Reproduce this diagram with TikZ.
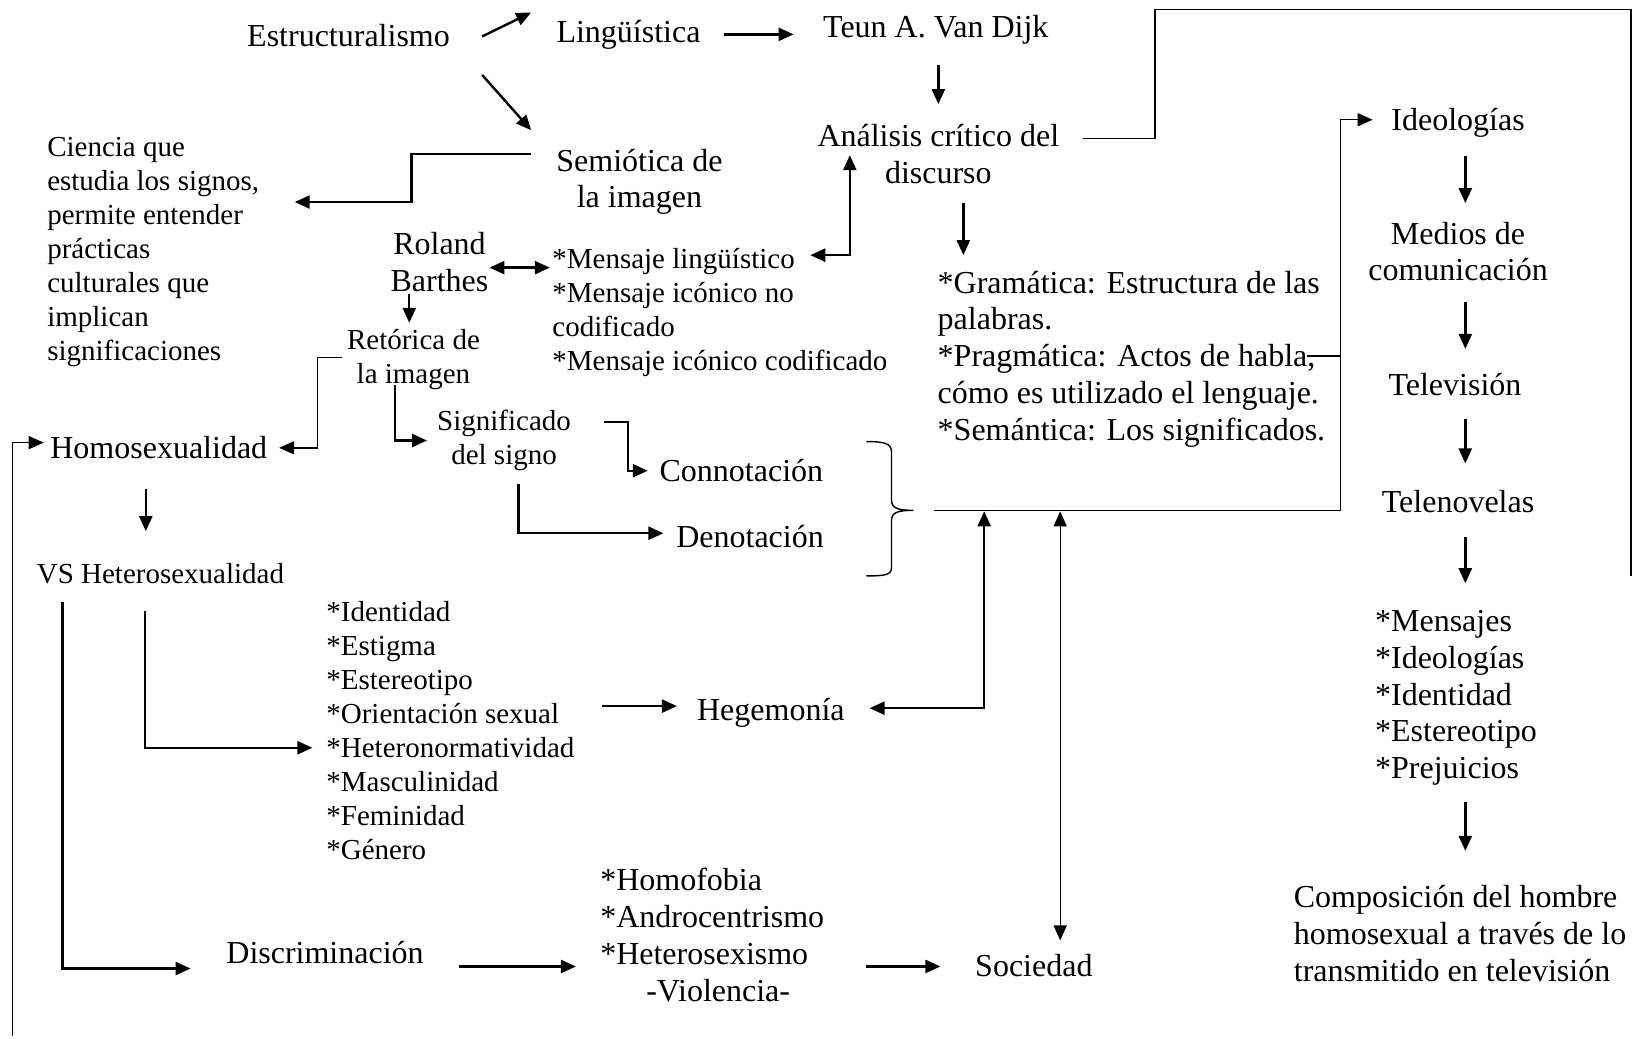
\documentclass[tikz,border=0pt]{standalone}
\usepackage{fontspec}
\setmainfont{Liberation Serif}
\usetikzlibrary{arrows.meta}
\newcommand\fsb{\rule{0pt}{15.2pt}}
\newcommand\fss{\rule{0pt}{13.8pt}}
\begin{document}
\begin{tikzpicture}[x=0.52075pt,y=-0.52075pt,
 big/.style={font=\fontsize{16}{18.4}\selectfont, inner sep=0pt},
 sml/.style={font=\fontsize{14.5}{17}\selectfont, inner sep=0pt},
 bigm/.style={big, yshift=15.2pt},
 smlm/.style={sml, yshift=13.8pt},
 con/.style={line width=1.2pt},
 thn/.style={line width=0.7pt},
 arr/.style={-{Triangle[length=7.5pt,width=6.5pt]}},
 darr/.style={{Triangle[length=7.5pt,width=6.5pt]}-{Triangle[length=7.5pt,width=6.5pt]}},
]
\useasboundingbox (0,0) rectangle (1568,997);
% ---------- nodes ----------
\node[big, anchor=base west] (estr) at (237,45) {Estructuralismo};
\node[big, anchor=base west] (ling) at (534,41) {Lingüística};
\node[big, anchor=base west] (teun) at (790,36) {Teun A. Van Dijk};
\node[bigm, anchor=north, align=center] (acd) at (901,140) {\fsb Análisis crítico del\\discurso};
\node[bigm, anchor=north, align=center] (semi) at (614,164) {\fsb Semiótica de\\la imagen};
\node[smlm, anchor=north west, align=left] (cien) at (45,150) {\fss Ciencia que\\estudia los signos,\\permite entender\\prácticas\\culturales que\\implican\\significaciones};
\node[bigm, anchor=north, align=center] (rol) at (422,244) {\fsb Roland\\Barthes};
\node[smlm, anchor=north west, align=left] (mens) at (530,257) {\fss *Mensaje lingüístico\\*Mensaje icónico no\\codificado\\*Mensaje icónico codificado};
\node[bigm, anchor=north west, align=left] (gram) at (900,281) {\fsb *Gramática: Estructura de las\\palabras.\\*Pragmática: Actos de habla,\\cómo es utilizado el lenguaje.\\*Semántica: Los significados.};
\node[smlm, anchor=north, align=center] (ret) at (397,335) {\fss Retórica de\\la imagen};
\node[smlm, anchor=north, align=center] (sig) at (484,413) {\fss Significado\\del signo};
\node[big, anchor=base west] (homo) at (48,440) {Homosexualidad};
\node[big, anchor=base west] (conn) at (633,462) {Connotación};
\node[big, anchor=base west] (deno) at (649,526) {Denotación};
\node[sml, anchor=base west] (vs) at (35,560) {VS Heterosexualidad};
\node[smlm, anchor=north west, align=left] (iden) at (313,596) {\fss *Identidad\\*Estigma\\*Estereotipo\\*Orientación sexual\\*Heteronormatividad\\*Masculinidad\\*Feminidad\\*Género};
\node[big, anchor=base west] (hege) at (669,692) {Hegemonía};
\node[bigm, anchor=north west, align=left] (homof) at (576,855) {\fsb *Homofobia\\*Androcentrismo\\*Heterosexismo\\\hspace*{23pt}-Violencia-};
\node[big, anchor=base west] (disc) at (217,925) {Discriminación};
\node[big, anchor=base west] (soc) at (936,938) {Sociedad};
\node[big, anchor=base] (ideo) at (1400,125) {Ideologías};
\node[bigm, anchor=north, align=center] (medi) at (1400,234) {\fsb Medios de\\comunicación};
\node[big, anchor=base] (tele) at (1397,380) {Televisión};
\node[big, anchor=base] (telen) at (1400,492) {Telenovelas};
\node[bigm, anchor=north west, align=left] (mnsj) at (1320,606) {\fsb *Mensajes\\*Ideologías\\*Identidad\\*Estereotipo\\*Prejuicios};
\node[bigm, anchor=north west, align=left] (comp) at (1242,871) {\fsb Composición del hombre\\homosexual a través de lo\\transmitido en televisión};
% ---------- coordinates ----------
\coordinate (a1) at (463,35);   \coordinate (a2) at (510,12);
\coordinate (b1) at (463,72);   \coordinate (b2) at (510,125);
\coordinate (c1) at (695,33);   \coordinate (c2) at (762,33);
\coordinate (d1) at (901,62);   \coordinate (d2) at (901,100);
\coordinate (e1) at (1040,133); \coordinate (e2) at (1109,9); \coordinate (e3) at (1566,553);
\coordinate (f1) at (925,195);  \coordinate (f2) at (925,245);
\coordinate (g1) at (510,148);  \coordinate (g2) at (395,194); \coordinate (g3) at (283,194);
\coordinate (h1) at (470,257);  \coordinate (h2) at (528,257);
\coordinate (i1) at (816,149);  \coordinate (i2) at (778,245);
\coordinate (j1) at (393,282);  \coordinate (j2) at (393,310);
\coordinate (k1) at (328,343);  \coordinate (k2) at (305,430); \coordinate (k3) at (268,430);
\coordinate (l1) at (379,370);  \coordinate (l2) at (410,423);
\coordinate (m1) at (580,405);  \coordinate (m2) at (603,452); \coordinate (m3) at (622,452);
\coordinate (n1) at (498,465);  \coordinate (n2) at (637,512);
\coordinate (o1) at (897,490);  \coordinate (o2) at (1287,490); \coordinate (o3) at (1287,115); \coordinate (o4) at (1318,115);
\coordinate (p1) at (1255,342); \coordinate (p2) at (1287,342);
\coordinate (q1) at (835,680);  \coordinate (q2) at (945,491);
\coordinate (r1) at (1018,491); \coordinate (r2) at (1018,903);
\coordinate (s1) at (12,995);   \coordinate (s2) at (12,425);  \coordinate (s3) at (42,425);
\coordinate (t1) at (140,470);  \coordinate (t2) at (140,510);
\coordinate (u1) at (60,578);   \coordinate (u2) at (60,930);  \coordinate (u3) at (183,930);
\coordinate (v1) at (139,587);  \coordinate (v2) at (139,718); \coordinate (v3) at (300,718);
\coordinate (w1) at (578,678);  \coordinate (w2) at (650,678);
\coordinate (x1) at (441,928);  \coordinate (x2) at (553,928);
\coordinate (y1) at (832,928);  \coordinate (y2) at (903,928);
% ---------- connectors ----------
\draw[con,arr] (a1) -- (a2);
\draw[con,arr] (b1) -- (b2);
\draw[con,arr] (c1) -- (c2);
\draw[con,arr] (d1) -- (d2);
\draw[thn] (e1) -| (e2) -| (e3);
\draw[con,arr] (f1) -- (f2);
\draw[con,arr] (g1) -| (g2) -- (g3);
\draw[con,darr] (h1) -- (h2);
\draw[con,darr] (i1) |- (i2);
\draw[con,arr] (j1) -- (j2);
\draw[thn,arr] (k1) -| (k2) -- (k3);
\draw[con,arr] (l1) |- (l2);
\draw[con,arr] (m1) -| (m2) -- (m3);
\draw[con,arr] (n1) |- (n2);
\draw[thn] (832,424) .. controls (850,424) and (856,426) .. (856,434) -- (856,480) .. controls (856,488) and (862,490) .. (877,490)
  .. controls (862,490) and (856,492) .. (856,500) -- (856,545) .. controls (856,552) and (850,553) .. (832,553);
\draw[thn,arr] (o1) -- (o2) -- (o3) -- (o4);
\draw[thn] (p1) -- (p2);
\draw[con,darr] (q1) -| (q2);
\draw[thn,darr] (r1) -- (r2);
\draw[thn,arr] (s1) -- (s2) -- (s3);
\draw[con,arr] (t1) -- (t2);
\draw[con,arr] (u1) |- (u3);
\draw[con,arr] (v1) |- (v3);
\draw[con,arr] (w1) -- (w2);
\draw[con,arr] (x1) -- (x2);
\draw[con,arr] (y1) -- (y2);
\coordinate (z1) at (1407,150); \coordinate (z2) at (1407,195);
\coordinate (z3) at (1407,290); \coordinate (z4) at (1407,335);
\coordinate (z5) at (1407,402); \coordinate (z6) at (1407,445);
\coordinate (z7) at (1407,516); \coordinate (z8) at (1407,560);
\coordinate (z9) at (1407,770); \coordinate (z10) at (1407,817);
\draw[con,arr] (z1) -- (z2);
\draw[con,arr] (z3) -- (z4);
\draw[con,arr] (z5) -- (z6);
\draw[con,arr] (z7) -- (z8);
\draw[con,arr] (z9) -- (z10);
\end{tikzpicture}
\end{document}
